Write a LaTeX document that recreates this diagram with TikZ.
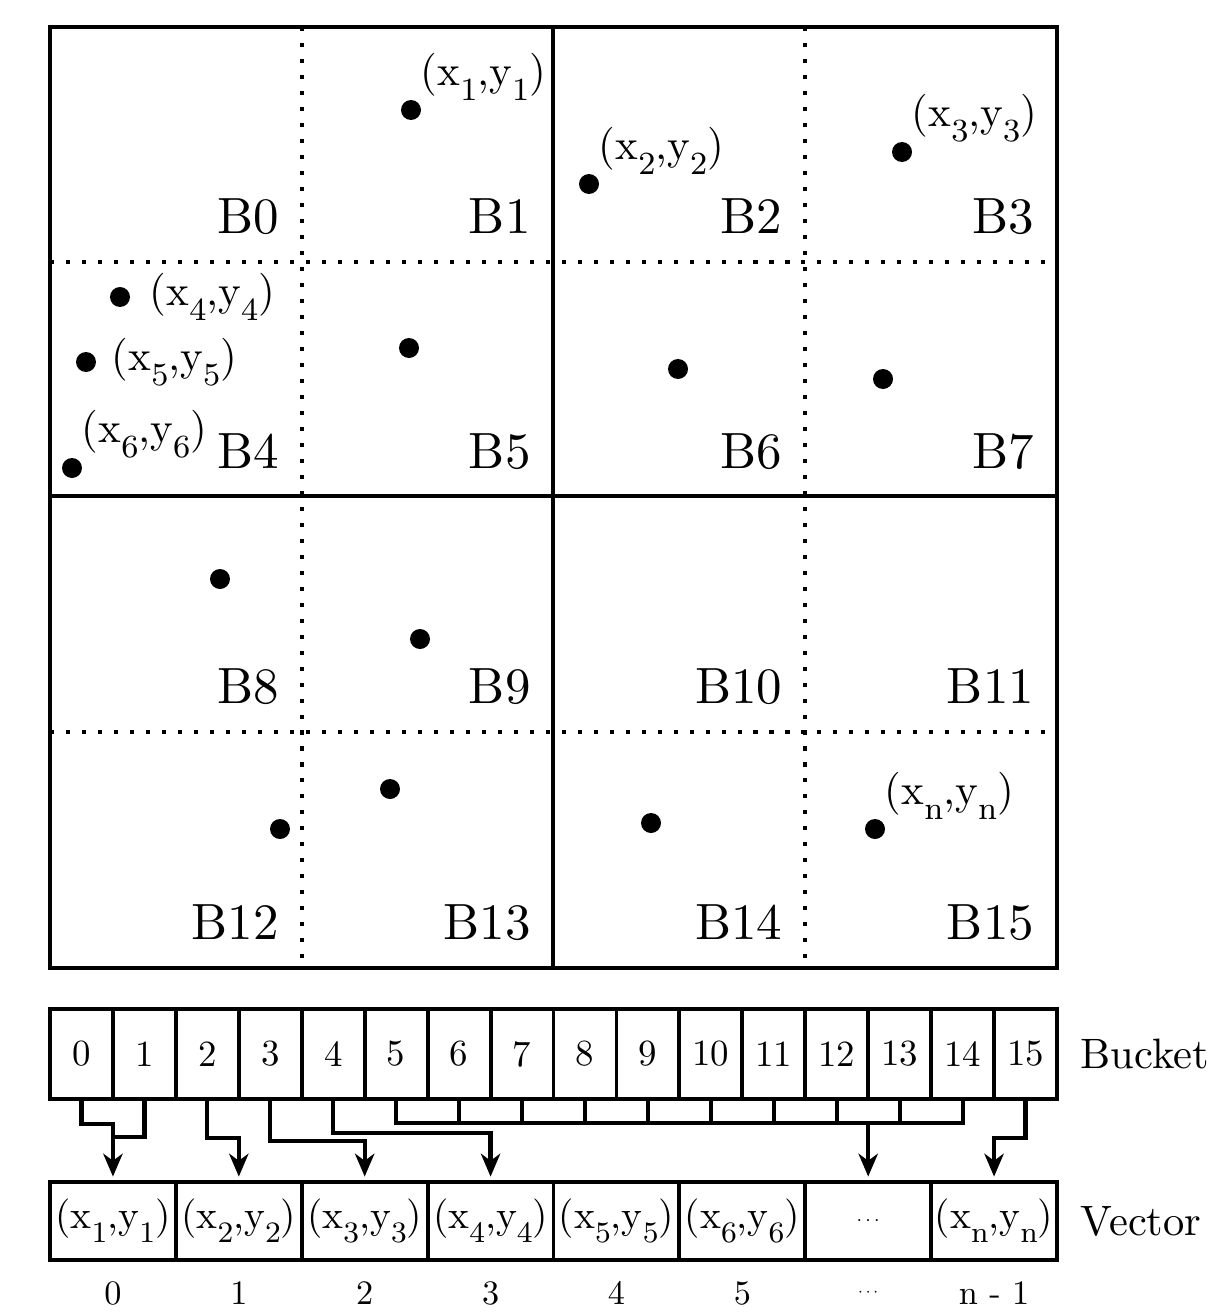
\documentclass[tikz,border=0pt]{standalone}
\usepackage{tikz}
\usetikzlibrary{arrows.meta}

\newcommand{\ptlab}[1]{(x\lower3.5pt\hbox{\fontsize{7.5}{8}\selectfont #1},y\lower3.5pt\hbox{\fontsize{7.5}{8}\selectfont #1})}
\newcommand{\smalldots}{\scalebox{0.5}{$\cdots$}}

\begin{document}
\begin{tikzpicture}[x=0.02cm,y=-0.02cm]
      \tikzstyle{dot}=[circle,fill=black,inner sep=0pt,minimum size=0.4cm]
      \tikzstyle{lab}=[inner sep=0.4pt,scale=2.45,transform shape]
      \tikzstyle{cell}=[anchor=base east,inner sep=0pt,scale=2.9,transform shape]
      \tikzstyle{bucket}=[draw,line width=2.2pt,inner sep=0pt,minimum width=1.259cm,minimum height=1.8cm]
      \tikzstyle{vec}=[draw,line width=2.2pt,inner sep=0pt,minimum width=2.5175cm,minimum height=1.56cm]
      \tikzstyle{rowname}=[anchor=west,inner sep=0pt,scale=2.42,transform shape]
      \tikzstyle{conn}=[line width=2.4pt]
      \tikzstyle{arr}=[conn,-{Stealth[length=13pt,width=11pt,inset=4pt]},shorten >=2pt]
      \useasboundingbox (0,0) rectangle (1212,1315);
      % grid of cells
      \draw[line width=2.2pt,dash pattern=on 2.3pt off 6.8pt] (302,27) -- (302,968) (805,27) -- (805,968)
        (50,262) -- (1057,262) (50,732) -- (1057,732);
      \draw[line width=2.4pt] (50,27) rectangle (1057,968) (553,27) -- (553,968) (50,496) -- (1057,496);
      \foreach \r in {0,...,3}
        \foreach \c in {0,...,3} {
          \pgfmathtruncatemacro\k{4*\r+\c}
          \node[cell] (B\k) at ({50+251.75*(\c+1)-22},{27+235.25*(\r+1)-29}) {B\k};
        }
      % points
      \node[dot] (p1) at (411,110) {};
      \node[dot] (p2) at (589,184) {};
      \node[dot] (p3) at (902,152) {};
      \node[dot] (p4) at (120,297) {};
      \node[dot] (p5) at (86,362) {};
      \node[dot] (p6) at (72,468) {};
      \node[dot] (p7) at (409,348) {};
      \node[dot] (p8) at (678,369) {};
      \node[dot] (p9) at (883,379) {};
      \node[dot] (p10) at (220,579) {};
      \node[dot] (p11) at (420,639) {};
      \node[dot] (p12) at (390,789) {};
      \node[dot] (p13) at (280,829) {};
      \node[dot] (p14) at (651,823) {};
      \node[dot] (pn) at (875,829) {};
      \node[lab,anchor=south west] (l1) at (p1.north east) {\ptlab{1}};
      \node[lab,anchor=south west] (l2) at (p2.north east) {\ptlab{2}};
      \node[lab,anchor=south west] (l3) at (p3.north east) {\ptlab{3}};
      \node[lab,anchor=west] (l4) at ([xshift=0.34cm]p4.east) {\ptlab{4}};
      \node[lab,anchor=west] (l5) at ([xshift=0.26cm]p5.east) {\ptlab{5}};
      \node[lab,anchor=south west] (l6) at (p6.north east) {\ptlab{6}};
      \node[lab,anchor=south west] (ln) at (pn.north east) {\ptlab{n}};
      % buckets
      \foreach \i in {0,...,15}
        \node[bucket] (b\i) at ({81.47+62.94*\i},1054) {\scalebox{2.1}{\i}};
      \node[rowname] (bname) at (1080,1054) {Bucket};
      % vector
      \foreach \i/\t in {0/\ptlab{1},1/\ptlab{2},2/\ptlab{3},3/\ptlab{4},4/\ptlab{5},5/\ptlab{6},6/\smalldots,7/\ptlab{n}}
        \node[vec] (v\i) at ({112.94+125.875*\i},1221) {\scalebox{2.25}{\t}};
      \node[rowname] (vname) at (1080,1221) {Vector};
      \foreach \i/\t in {0/0,1/1,2/2,3/3,4/4,5/5,6/\smalldots,7/n - 1}
        \node[scale=1.95,transform shape] (idx\i) at (v\i |- 0,1293) {\t};
      % connectors
      \draw[arr] (b0.south) -- ++(0,23) -| (v0.north);
      \draw[conn] (b1.south) |- (v0.north |- 0,1137);
      \draw[arr] (b2.south) -- ++(0,37) -| (v1.north);
      \draw[arr] (b3.south) -- ++(0,40) -| (v2.north);
      \draw[arr] (b4.south) -- ++(0,32) -| (v3.north);
      \path (b5.south) ++(0,22) coordinate (c5);
      \draw[conn] (b5.south) -- (c5) -- (c5 -| b14.south) -- (b14.south);
      \foreach \i in {6,...,13}
        \draw[conn] (b\i.south) -- (c5 -| b\i.south);
      \draw[arr] (c5 -| v6.north) -- (v6.north);
      \draw[arr] (b15.south) -- ++(0,37) -| (v7.north);
\end{tikzpicture}
\end{document}
